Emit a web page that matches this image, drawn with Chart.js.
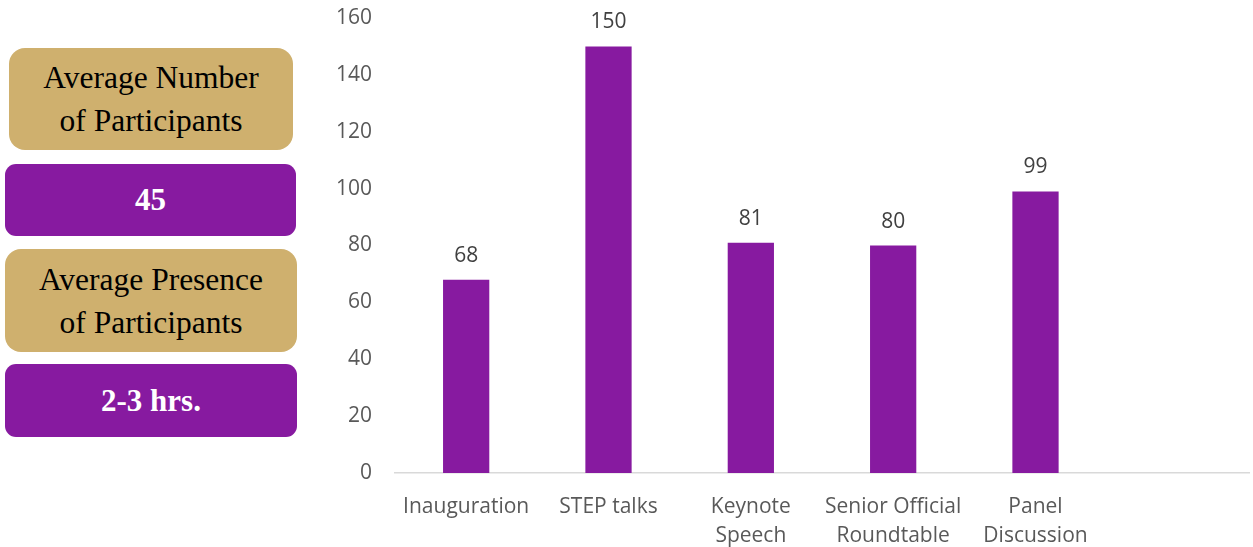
<!DOCTYPE html>
<html>
<head>
<meta charset="utf-8">
<script src="https://cdn.jsdelivr.net/npm/chart.js@4.4.1/dist/chart.umd.min.js"></script>
<style>
  html, body { margin: 0; padding: 0; background: #ffffff; }
  body { width: 1253px; height: 547px; position: relative; overflow: hidden; }
  .box { position: absolute; display: flex; align-items: center; justify-content: center; text-align: center;
         font-family: "Liberation Serif", "Times New Roman", serif; box-sizing: border-box; }
  .tan { background: #CFB06E; color: #000; font-size: 31.5px; line-height: 43px; border-radius: 16px; }
  .pur { background: #871AA0; color: #fff; font-size: 31px; font-weight: bold; border-radius: 11px; }
  #wrap { position: absolute; left: 310px; top: 0; width: 943px; height: 547px; }
</style>
</head>
<body>
<div class="box tan" id="b1" style="left:9px;top:48px;width:284px;height:102px;"></div>
<div class="box pur" id="b2" style="left:5px;top:164px;width:291px;height:72px;"></div>
<div class="box tan" id="b3" style="left:5px;top:249px;width:292px;height:103px;"></div>
<div class="box pur" id="b4" style="left:5px;top:364px;width:292px;height:73px;"></div>
<div id="wrap"><canvas id="c" width="943" height="547"></canvas></div>
<script>
const categories = ["Inauguration", "STEP talks", ["Keynote", "Speech"], ["Senior Official", "Roundtable"], ["Panel", "Discussion"], ""];
const participants = [68, 150, 81, 80, 99, null];
const yTicks = [0, 20, 40, 60, 80, 100, 120, 140, 160];
const sideLabels = ["Average Number<br>of Participants", "45", "Average Presence<br>of Participants", "2-3 hrs."];

["b1","b2","b3","b4"].forEach((id, i) => { document.getElementById(id).innerHTML = sideLabels[i]; });

const valueLabels = {
  id: 'valueLabels',
  afterDatasetsDraw(chart) {
    const ctx = chart.ctx;
    const meta = chart.getDatasetMeta(0);
    ctx.save();
    ctx.font = '21px "Open Sans", sans-serif';
    ctx.fillStyle = '#404040';
    ctx.textAlign = 'center';
    ctx.textBaseline = 'alphabetic';
    meta.data.forEach((bar, i) => {
      const v = participants[i];
      if (v == null) return;
      ctx.fillText(String(v), bar.x, bar.y - 18);
    });
    ctx.restore();
  }
};

new Chart(document.getElementById('c'), {
  type: 'bar',
  data: {
    labels: categories,
    datasets: [{
      data: participants,
      backgroundColor: '#871AA0',
      borderWidth: 0,
      categoryPercentage: 1.0,
      barPercentage: 0.325
    }]
  },
  options: {
    responsive: false,
    animation: false,
    events: [],
    layout: { padding: { top: 18, right: 4, bottom: 0, left: 0 } },
    plugins: { legend: { display: false }, tooltip: { enabled: false } },
    scales: {
      x: {
        grid: { display: false, drawTicks: false },
        border: { display: true, color: '#D9D9D9', width: 1.5 },
        ticks: { color: '#595959', font: { family: '"Open Sans", sans-serif', size: 21, lineHeight: 1.35 }, padding: 20, maxRotation: 0, autoSkip: false },
        afterFit(scale) { scale.height = 74; scale.paddingTop = 0; scale.paddingBottom = 0; }
      },
      y: {
        min: 0, max: 160,
        grid: { display: false, drawTicks: false },
        border: { display: false },
        afterBuildTicks(scale) { scale.ticks = yTicks.map(v => ({ value: v })); },
        ticks: { color: '#595959', font: { family: '"Open Sans", sans-serif', size: 21 }, padding: 23 },
        afterFit(scale) { scale.width = 85; scale.paddingTop = 0; scale.paddingBottom = 0; }
      }
    }
  },
  plugins: [valueLabels]
});
</script>
</body>
</html>
